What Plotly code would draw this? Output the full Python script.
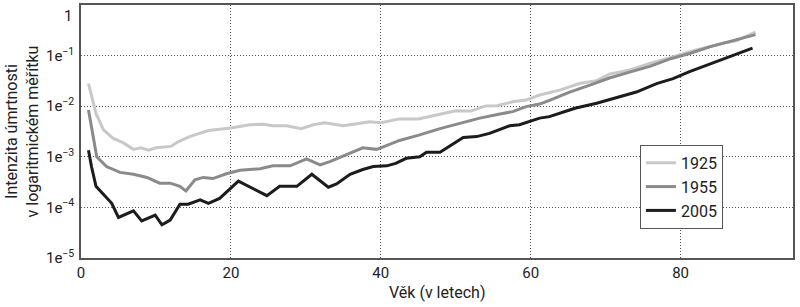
import plotly.graph_objects as go

# ---- data ----
ages_1925 = [1, 2, 3, 4.3, 5.6, 7, 8, 9, 10, 12, 13, 14.5, 17, 18.5, 20, 22.5, 24.3, 25.6, 27.4,
             29.4, 31, 32.5, 35, 36.8, 38.5, 40, 41.2, 42.5, 45, 47.4, 50, 52, 54, 55.5, 57.6,
             59.4, 61.2, 64, 66.5, 68.8, 70.5, 73.2, 76, 78.5, 81.2, 83, 85.6, 87.4, 90]
rate_1925 = [0.028, 0.0072, 0.0034, 0.0023, 0.0019, 0.0014, 0.0015, 0.00135, 0.0015, 0.0016,
             0.002, 0.0025, 0.0033, 0.0035, 0.0037, 0.0043, 0.0044, 0.0041, 0.0041, 0.0036,
             0.0043, 0.0047, 0.0041, 0.0045, 0.0049, 0.0047, 0.0051, 0.0056, 0.0056, 0.0067,
             0.0081, 0.008, 0.0101, 0.0102, 0.0122, 0.0132, 0.0166, 0.021, 0.028, 0.032, 0.043,
             0.052, 0.071, 0.09, 0.12, 0.14, 0.175, 0.195, 0.29]

ages_1955 = [1, 2.1, 3.4, 5.2, 7, 8.8, 10.5, 11.9, 13.2, 14, 15.2, 16.3, 17.6, 19.4, 21.2, 23.9,
             25.6, 27.9, 30.1, 31.9, 33.2, 35.4, 37.6, 39.4, 40, 42.5, 45.2, 47.9, 50.5, 53.2,
             55.9, 57.6, 59.4, 61.2, 62.5, 65.2, 67.9, 70.5, 73.2, 75.9, 78.5, 81.2, 84, 87, 90]
rate_1955 = [0.0084, 0.001, 0.00064, 0.00049, 0.00045, 0.00039, 0.0003, 0.0003, 0.00026, 0.00021,
             0.00035, 0.00039, 0.00037, 0.00046, 0.00054, 0.00058, 0.00066, 0.00066, 0.00091,
             0.00069, 0.0008, 0.0011, 0.0015, 0.0014, 0.0015, 0.0021, 0.0027, 0.0036, 0.0046,
             0.0058, 0.007, 0.0078, 0.0098, 0.011, 0.013, 0.019, 0.026, 0.036, 0.047, 0.061,
             0.085, 0.11, 0.15, 0.2, 0.26]

ages_2005 = [1, 1.4, 2, 3, 4.1, 5, 7, 8.1, 9.9, 10.8, 11.9, 13.2, 14.3, 15.9, 17, 18.5, 20.3, 21,
             24.8, 26.5, 28.8, 30.8, 33, 34.1, 35.9, 37.6, 39, 40.8, 42, 43.4, 45.2, 46.1, 47.9,
             51, 52.8, 54.5, 57.2, 58.5, 61.2, 62.5, 65.2, 65.9, 68.8, 71.4, 74.1, 76.8, 79,
             81.2, 84, 87, 89.6]
rate_2005 = [0.00135, 0.00064, 0.00026, 0.00018, 0.00012, 0.000063, 0.000085, 0.000054, 0.00007,
             0.000045, 0.000056, 0.000115, 0.000115, 0.00014, 0.00012, 0.00015, 0.00026, 0.00033,
             0.00017, 0.00026, 0.00026, 0.00045, 0.00025, 0.00029, 0.00045, 0.00056, 0.00064,
             0.00066, 0.00074, 0.00093, 0.001, 0.00123, 0.00123, 0.0024, 0.0025, 0.0029, 0.0041,
             0.0043, 0.0058, 0.0062, 0.0084, 0.0091, 0.0114, 0.0144, 0.019, 0.028, 0.035, 0.048,
             0.068, 0.1, 0.14]

x_ticks = [0, 20, 40, 60, 80]
y_tick_vals = [1e-1, 1e-2, 1e-3, 1e-4, 1e-5]
y_tick_text = ["1e<sup>−1</sup>", "1e<sup>−2</sup>", "1e<sup>−3</sup>",
               "1e<sup>−4</sup>", "1e<sup>−5</sup>"]
y_top_label = "1"

series = [("1925", ages_1925, rate_1925, "#c8c8c8"),
          ("1955", ages_1955, rate_1955, "#8a8a8a"),
          ("2005", ages_2005, rate_2005, "#1c1c1c")]

FONT = "Roboto"
FS = 15
GRID_DASH = "1px,2px"

fig = go.Figure()
for name, xs, ys, col in series:
    fig.add_trace(go.Scatter(x=xs, y=ys, name=name, mode="lines",
                             line=dict(color=col, width=3)))

fig.update_layout(
    width=800, height=307,
    margin=dict(l=81, r=7, t=5, b=49, autoexpand=False),
    paper_bgcolor="white", plot_bgcolor="white",
    font=dict(family=FONT, size=FS, color="#222"),
    showlegend=True,
    legend=dict(x=0.785, y=0.447, xanchor="left", yanchor="top",
                bordercolor="#555", borderwidth=1, bgcolor="white",
                font=dict(size=16, color="#222"), itemwidth=30,
                tracegroupgap=2),
    xaxis=dict(range=[0, 95], tickvals=x_ticks, showgrid=True, automargin=False,
               gridcolor="#555", griddash=GRID_DASH, gridwidth=1,
               showline=True, linecolor="#555", linewidth=1.5, mirror=True,
               ticks="", zeroline=False, tickfont=dict(size=FS)),
    yaxis=dict(type="log", range=[-5.002, 0.0], tickvals=y_tick_vals, ticktext=y_tick_text,
               showgrid=True, gridcolor="#555", griddash=GRID_DASH, gridwidth=1, automargin=False,
               showline=True, linecolor="#555", linewidth=1.5, mirror=True,
               ticks="", tickfont=dict(size=FS), ticklabelstandoff=2),
    annotations=[
        dict(text=y_top_label, xref="paper", yref="paper", x=0, y=1, xanchor="right",
             yanchor="top", xshift=-7, showarrow=False, font=dict(size=FS, color="#222")),
        dict(text="Intenzita úmrtnosti<br>v logaritmickém měřítku", textangle=-90,
             xref="paper", yref="paper", x=-0.083, y=0.5, xanchor="center",
             yanchor="middle", showarrow=False, font=dict(size=16, color="#222")),
        dict(text="Věk (v letech)", xref="paper", yref="paper", x=0.5, y=-0.138,
             xanchor="center", yanchor="middle", showarrow=False,
             font=dict(size=16, color="#222")),
    ],
)

fig.write_html("out.html", config={"displayModeBar": False},
               post_script="document.body.style.margin='0';document.body.style.overflow='hidden';")
